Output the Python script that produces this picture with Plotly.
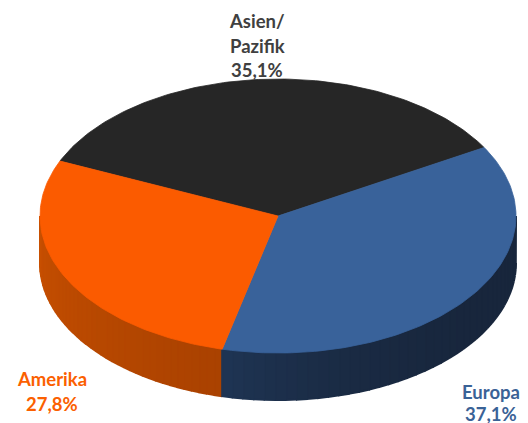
import numpy as np
import plotly.graph_objects as go

categories = ["Asien/<br>Pazifik", "Europa", "Amerika"]
shares = [35.1, 37.1, 27.8]
share_labels = ["35,1%", "37,1%", "27,8%"]
top_colors = ["#262626", "#39629A", "#FB5B00"]
text_colors = ["#404040", "#3A6296", "#FB6000"]
side_from = {"Europa": (31, 53, 84), "Amerika": (200, 80, 0)}
side_mid = {"Europa": (24, 38, 60), "Amerika": (170, 66, 0)}

W, H = 528, 423
CX, CY, RX, RY, DEPTH = 278, 216, 238, 137, 47
START = 30  # degrees; Asien/Pazifik ends here, slices run clockwise

def px(a):
    return CX + RX * np.cos(np.radians(a))

def py(a):
    return CY - RY * np.sin(np.radians(a))

fig = go.Figure()

# slice boundaries derived from the shares (clockwise from Europa)
total = sum(shares)
bounds = {}
a = START
for name, v in [("Europa", shares[1]), ("Amerika", shares[2]), ("Asien", shares[0])]:
    bounds[name] = (a, a - v / total * 360)
    a = bounds[name][1]

def add_poly(xs, ys, color, name, lw=0.8):
    fig.add_trace(go.Scatter(x=xs, y=ys, mode="lines", fill="toself", fillcolor=color,
                             line=dict(color=color, width=lw), hoverinfo="skip",
                             name=name, showlegend=False))

# side wall, only the front half (angles below the horizon)
for name in ["Amerika", "Europa"]:
    a0, a1 = bounds[name]
    hi = min(a0, 0) if name == "Europa" else a0
    lo = max(a1, -180)
    edges = np.linspace(hi, lo, 41)
    c0, c1 = np.array(side_mid[name]), np.array(side_from[name])
    for i in range(40):
        seg = np.linspace(edges[i], edges[i + 1], 4)
        mid = (edges[i] + edges[i + 1]) / 2
        # darkest at the front, lighter towards the rim
        if name == "Amerika":
            t = (a0 - mid) / (a0 - lo)
            col = c0 + (c1 - c0) * t
        else:
            t = (hi - mid) / (hi - lo)
            col = c0 + (c1 - c0) * t ** 3
        color = "rgb(%d,%d,%d)" % tuple(col)
        xs = np.r_[px(seg), px(seg[::-1])]
        ys = np.r_[py(seg), py(seg[::-1]) + DEPTH]
        add_poly(xs, ys, color, name, lw=2)

# top face
for name, col in [("Asien", top_colors[0]), ("Europa", top_colors[1]), ("Amerika", top_colors[2])]:
    a0, a1 = bounds[name]
    seg = np.linspace(a0, a1, 120)
    add_poly(np.r_[CX, px(seg), CX], np.r_[CY, py(seg), CY], col, name)

# labels
label_pos = [(257, 21, 46, 70), (491, 392, None, 414), (52, 379, None, 404)]
for cat, lab, col, (x, y1, y2, y3) in zip(categories, share_labels, text_colors, label_pos):
    lines = cat.split("<br>")
    ys = [y1, y2] if len(lines) == 2 else [y1]
    for ln, y in zip(lines + [lab], ys + [y3]):
        fig.add_annotation(x=x, y=y, text="<b>%s</b>" % ln, showarrow=False,
                           xanchor="center", yanchor="middle",
                           font=dict(family="Lato", size=18.5, color=col))

fig.update_layout(width=W, height=H, margin=dict(l=0, r=0, t=0, b=0),
                  paper_bgcolor="white", plot_bgcolor="white", showlegend=False,
                  xaxis=dict(range=[0, W], visible=False, fixedrange=True),
                  yaxis=dict(range=[H, 0], visible=False, fixedrange=True))
fig.write_html("out.html", config=dict(displayModeBar=False),
               post_script="document.body.style.margin='0';document.documentElement.style.overflow='hidden';")
